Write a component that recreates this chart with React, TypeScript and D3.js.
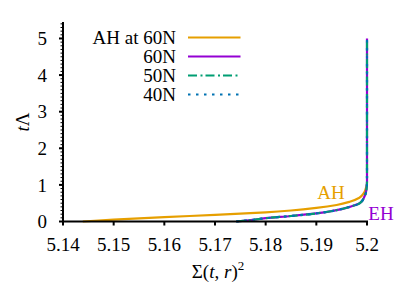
import React from "react";
import * as d3 from "d3";

// curves: [Sigma(t,r)^2, t*Lambda]
const ah60: [number, number][] = [
  [5.1439, 0], [5.15, 0.05], [5.16, 0.12], [5.17, 0.18], [5.18, 0.25],
  [5.185, 0.3], [5.19, 0.37], [5.194, 0.45], [5.1966, 0.54], [5.1985, 0.65],
  [5.1994, 0.78], [5.1998, 0.92], [5.2, 1.02],
];
const eh60: [number, number][] = [
  [5.1742, 0], [5.177, 0.04], [5.18, 0.09], [5.185, 0.15], [5.19, 0.22],
  [5.194, 0.31], [5.1966, 0.4], [5.1986, 0.5], [5.1995, 0.68], [5.1999, 0.88],
  [5.2, 1.1], [5.2, 5.0],
];
const eh50: [number, number][] = eh60.map(([x, y]) => [x, y]);
const eh40: [number, number][] = eh60.map(([x, y]) => [x, y]);

const legendLabels = ["AH at 60N", "60N", "50N", "40N"];
const xTicks = [5.14, 5.15, 5.16, 5.17, 5.18, 5.19, 5.2];
const yTicks = [0, 1, 2, 3, 4, 5];

const W = 402;
const H = 287;
const margin = { top: 22, right: 35, bottom: 66, left: 63 };
const tf = { fontFamily: "'Liberation Serif', 'Times New Roman', serif" };
const FS = 19;

export default function App() {
  const x = d3.scaleLinear().domain([5.14, 5.2]).range([margin.left, 367]);
  const y = d3.scaleLinear().domain([0, 5.45]).range([221.5, margin.top]);
  // monotone in y so the vertical end of each curve stays vertical
  const line = d3.line<[number, number]>().x(d => x(d[0])).y(d => y(d[1])).curve(d3.curveMonotoneY);

  const series = [
    { data: ah60, color: "#E69F00", dash: "" },
    { data: eh60, color: "#9400D3", dash: "" },
    { data: eh50, color: "#009E73", dash: "9,3.5,2,3" },
    { data: eh40, color: "#0072B2", dash: "2.5,5.5" },
  ];
  const minor = d3.range(0, 5.45, 0.1);

  return (
    <svg width={W} height={H} style={{ position: "absolute", left: 0, top: 0 }}>
      <rect width={W} height={H} fill="#fff" />
      {series.map((s, i) => (
        <path key={i} d={line(s.data) || ""} fill="none" stroke={s.color}
          strokeWidth={2.2} strokeDasharray={s.dash || undefined} />
      ))}
      {/* axes */}
      <line x1={x(5.14)} x2={x(5.2) + 1} y1={y(0)} y2={y(0)} stroke="#000" strokeWidth={2} />
      <line x1={x(5.14)} x2={x(5.14)} y1={y(0) + 1} y2={margin.top} stroke="#000" strokeWidth={2} />
      {minor.map((v, i) => (
        <line key={"m" + i} x1={x(5.14) - 2.5} x2={x(5.14)} y1={y(v)} y2={y(v)} stroke="#000" strokeWidth={1} />
      ))}
      {yTicks.map(t => (
        <g key={"y" + t}>
          <line x1={x(5.14) - 4} x2={x(5.14)} y1={y(t)} y2={y(t)} stroke="#000" strokeWidth={2} />
          <text x={47} y={y(t)} dy="0.35em" textAnchor="end" fontSize={FS} style={tf}>{t}</text>
        </g>
      ))}
      {xTicks.map(t => (
        <g key={"x" + t}>
          <line x1={x(t)} x2={x(t)} y1={y(0)} y2={y(0) + 4} stroke="#000" strokeWidth={2} />
          <text x={x(t)} y={251} textAnchor="middle" fontSize={FS} style={tf}>{d3.format("~g")(t)}</text>
        </g>
      ))}
      <text x={218} y={278} textAnchor="middle" fontSize={FS} style={tf}>
        Σ(<tspan fontStyle="italic">t</tspan>, <tspan fontStyle="italic">r</tspan>)
        <tspan dy={-8} fontSize={13}>2</tspan>
      </text>
      <text transform="translate(29,122) rotate(-90)" textAnchor="middle" fontSize={FS} style={tf}>
        <tspan fontStyle="italic">t</tspan>Λ
      </text>
      {/* in-plot labels */}
      <text x={331} y={199} textAnchor="middle" fontSize={FS} fill="#E69F00" style={tf}>AH</text>
      <text x={381} y={220} textAnchor="middle" fontSize={FS} fill="#9400D3" style={tf}>EH</text>
      {/* legend */}
      {legendLabels.map((l, i) => {
        const cy = 37.5 + i * 19;
        const s = series[i];
        return (
          <g key={l}>
            <text x={176} y={cy} dy="0.35em" textAnchor="end" fontSize={FS} style={tf}>{l}</text>
            <line x1={188} x2={240.5} y1={cy} y2={cy} stroke={s.color} strokeWidth={2.2}
              strokeDasharray={s.dash || undefined} />
          </g>
        );
      })}
    </svg>
  );
}
